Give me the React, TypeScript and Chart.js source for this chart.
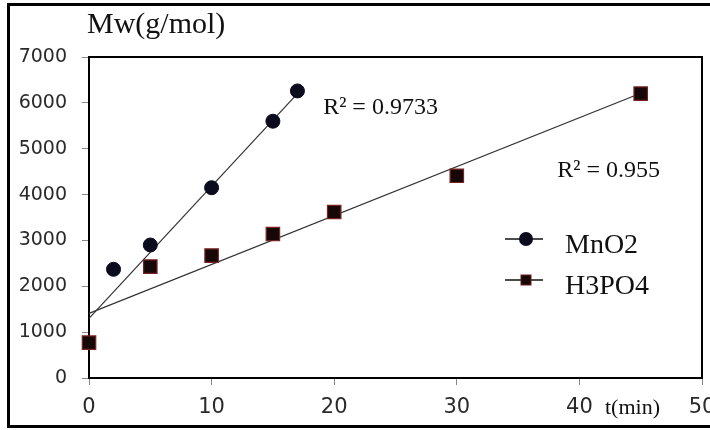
import { useEffect, useRef } from "react";
import { Chart, registerables } from "chart.js";

Chart.register(...registerables);

// ---- data ----
const timeMnO2 = [2, 5, 10, 15, 17];
const mwMnO2 = [2370, 2900, 4150, 5600, 6260];
const timeH3PO4 = [0, 5, 10, 15, 20, 30, 45];
const mwH3PO4 = [770, 2430, 2670, 3140, 3620, 4410, 6200];
const trendMnO2Time = [0, 17];
const trendMnO2Mw = [1300, 6200];
const trendH3PO4Time = [0, 45];
const trendH3PO4Mw = [1410, 6210];
const seriesLabels = ["MnO2", "H3PO4"];
const r2Labels = ["R² = 0.9733", "R² = 0.955"];
const xTickValues = [0, 10, 20, 30, 40, 50];
const yTickValues = [0, 1000, 2000, 3000, 4000, 5000, 6000, 7000];
const yAxisTitle = "Mw(g/mol)";
const xAxisTitle = "t(min)";

// annotation anchors (data coordinates, left/baseline of text)
const r2Anchors = [
  { x: 19.1, y: 5760 },
  { x: 38.2, y: 4390 },
];

const toPoints = (xs: number[], ys: number[]) => xs.map((x, i) => ({ x, y: ys[i] }));

const SERIF = "'Liberation Serif', 'Times New Roman', serif";
const SANS = "'DejaVu Sans', Verdana, sans-serif";

const decorPlugin = {
  id: "decor",
  afterDraw(chart: any) {
    const { ctx, chartArea } = chart;
    const xs = chart.scales.x;
    const ys = chart.scales.y;
    ctx.save();
    // top & right frame of plot area
    ctx.strokeStyle = "#000";
    ctx.lineWidth = 2;
    ctx.beginPath();
    ctx.moveTo(chartArea.left, chartArea.top);
    ctx.lineTo(chartArea.right, chartArea.top);
    ctx.lineTo(chartArea.right, chartArea.bottom);
    ctx.stroke();

    ctx.fillStyle = "#111";
    ctx.textBaseline = "alphabetic";
    ctx.textAlign = "left";
    // y-axis title
    ctx.font = `30px ${SERIF}`;
    ctx.fillText(yAxisTitle, chartArea.left - 2, chartArea.top - 24);
    // x-axis title
    ctx.font = `22px ${SERIF}`;
    ctx.fillText(xAxisTitle, chartArea.right - 97, chartArea.bottom + 36);

    // R² annotations
    ctx.font = `24px ${SERIF}`;
    r2Labels.forEach((t, i) => {
      ctx.fillText(t, xs.getPixelForValue(r2Anchors[i].x), ys.getPixelForValue(r2Anchors[i].y));
    });

    // legend
    const lx0 = chartArea.left + 416;
    const lx1 = chartArea.left + 454;
    const mx = chartArea.left + 437;
    const tx = chartArea.left + 476;
    const rows = [chartArea.top + 182, chartArea.top + 223];
    ctx.font = `28px ${SERIF}`;
    seriesLabels.forEach((label, i) => {
      const y = rows[i];
      ctx.strokeStyle = "#111";
      ctx.lineWidth = 1.5;
      ctx.beginPath();
      ctx.moveTo(lx0, y);
      ctx.lineTo(lx1, y);
      ctx.stroke();
      if (i === 0) {
        ctx.fillStyle = "#0b0b1e";
        ctx.beginPath();
        ctx.arc(mx, y, 7, 0, Math.PI * 2);
        ctx.fill();
      } else {
        ctx.fillStyle = "#160808";
        ctx.fillRect(mx - 5, y - 5, 10, 10);
        ctx.strokeStyle = "#6b1f1f";
        ctx.lineWidth = 1;
        ctx.strokeRect(mx - 5, y - 5, 10, 10);
      }
      ctx.fillStyle = "#111";
      ctx.fillText(label, tx, y + 14);
    });
    ctx.restore();
  },
};

export default function App() {
  const canvasRef = useRef<HTMLCanvasElement | null>(null);

  useEffect(() => {
    document.body.style.margin = "0";
    document.body.style.overflow = "hidden";
    const canvas = canvasRef.current;
    if (!canvas) return;
    const chart = new Chart(canvas, {
      type: "scatter",
      data: {
        datasets: [
          {
            label: seriesLabels[0],
            data: toPoints(timeMnO2, mwMnO2),
            showLine: false,
            pointStyle: "circle",
            pointRadius: 7,
            pointBackgroundColor: "#0b0b1e",
            pointBorderColor: "#0b0b1e",
            pointBorderWidth: 1,
            clip: false,
          },
          {
            label: seriesLabels[1],
            data: toPoints(timeH3PO4, mwH3PO4),
            showLine: false,
            pointStyle: "rect",
            pointRadius: 9.5,
            pointBackgroundColor: "#160808",
            pointBorderColor: "#7a2222",
            pointBorderWidth: 1.2,
            clip: false,
          },
          {
            label: "trend MnO2",
            data: toPoints(trendMnO2Time, trendMnO2Mw),
            showLine: true,
            pointRadius: 0,
            borderColor: "#333",
            borderWidth: 1.2,
            clip: false,
          },
          {
            label: "trend H3PO4",
            data: toPoints(trendH3PO4Time, trendH3PO4Mw),
            showLine: true,
            pointRadius: 0,
            borderColor: "#333",
            borderWidth: 1.2,
            clip: false,
          },
        ],
      },
      options: {
        animation: false,
        responsive: false,
        devicePixelRatio: 1,
        layout: { padding: { top: 57, right: 28, bottom: 0, left: 0 } },
        plugins: {
          legend: { display: false },
          tooltip: { enabled: false },
          title: { display: false },
        },
        scales: {
          x: {
            type: "linear",
            min: 0,
            max: 50,
            afterBuildTicks: (s: any) => {
              s.ticks = xTickValues.map((v) => ({ value: v }));
            },
            afterFit: (s: any) => {
              s.height = 52;
            },
            ticks: {
              font: { family: SANS, size: 21 },
              color: "#2a2a2a",
              padding: 10,
              maxRotation: 0,
              callback: (v: any) => String(v),
            },
            grid: {
              drawOnChartArea: false,
              drawTicks: true,
              tickLength: 7,
              color: "#888",
              lineWidth: 1,
            },
            border: { display: true, color: "#000", width: 2 },
          },
          y: {
            type: "linear",
            min: 0,
            max: 7000,
            afterBuildTicks: (s: any) => {
              s.ticks = yTickValues.map((v) => ({ value: v }));
            },
            afterFit: (s: any) => {
              s.width = 89;
            },
            ticks: {
              font: { family: SANS, size: 19 },
              color: "#2a2a2a",
              padding: 15,
              callback: (v: any) => String(v),
            },
            grid: {
              drawOnChartArea: false,
              drawTicks: true,
              tickLength: 7,
              color: "#888",
              lineWidth: 1,
            },
            border: { display: true, color: "#000", width: 2 },
          },
        },
      },
      plugins: [decorPlugin],
    } as any);
    return () => chart.destroy();
  }, []);

  return (
    <div
      style={{
        position: "fixed",
        left: 0,
        top: 0,
        width: 710,
        height: 430,
        overflow: "hidden",
        background: "#fff",
      }}
    >
      <div
        style={{
          position: "absolute",
          left: 7,
          top: 3,
          width: 800,
          height: 425,
          border: "3px solid #000",
          boxSizing: "border-box",
        }}
      />
      <canvas
        ref={canvasRef}
        width={730}
        height={430}
        style={{ position: "absolute", left: 0, top: 0 }}
      />
    </div>
  );
}
